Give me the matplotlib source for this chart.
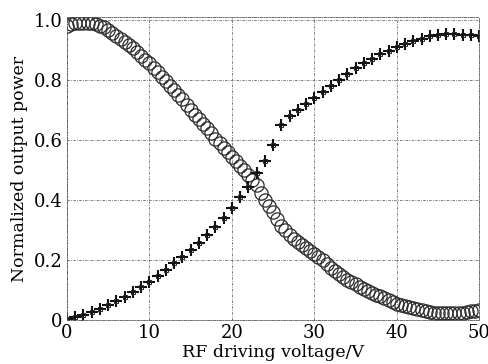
import numpy as np
import matplotlib
matplotlib.use("Agg")
import matplotlib.pyplot as plt

# Rising branch ('+' markers), 1 V steps
v_plus = np.arange(0, 51, 1)
p_plus = [0.005, 0.010, 0.018, 0.027, 0.038, 0.050, 0.063, 0.077, 0.093, 0.110,
          0.128, 0.148, 0.168, 0.190, 0.212, 0.235, 0.258, 0.285, 0.312, 0.340,
          0.375, 0.410, 0.445, 0.490, 0.530, 0.585, 0.650, 0.680, 0.700, 0.720,
          0.740, 0.760, 0.780, 0.800, 0.820, 0.840, 0.857, 0.870, 0.885, 0.898,
          0.910, 0.920, 0.930, 0.938, 0.945, 0.950, 0.952, 0.952, 0.950, 0.948,
          0.947]

# Falling branch (circles), 0.5 V steps
v_circ = np.arange(0, 50.5, 0.5)
p_circ = [0.980, 0.985, 0.990, 0.990, 0.990, 0.990, 0.990, 0.985, 0.980, 0.975,
          0.965, 0.955, 0.945, 0.935, 0.925, 0.915, 0.905, 0.893, 0.880, 0.868,
          0.855, 0.840, 0.825, 0.810, 0.795, 0.780, 0.765, 0.750, 0.735, 0.718,
          0.700, 0.685, 0.670, 0.655, 0.640, 0.622, 0.605, 0.590, 0.575, 0.560,
          0.545, 0.530, 0.515, 0.500, 0.485, 0.468, 0.450, 0.425, 0.400, 0.380,
          0.360, 0.338, 0.315, 0.300, 0.285, 0.272, 0.260, 0.250, 0.240, 0.230,
          0.220, 0.210, 0.200, 0.187, 0.175, 0.165, 0.155, 0.145, 0.135, 0.127,
          0.120, 0.112, 0.105, 0.097, 0.090, 0.085, 0.080, 0.074, 0.068, 0.061,
          0.055, 0.051, 0.047, 0.043, 0.040, 0.037, 0.034, 0.031, 0.028, 0.026,
          0.025, 0.024, 0.024, 0.024, 0.024, 0.024, 0.025, 0.027, 0.030, 0.032,
          0.035]

x_ticks = [0, 10, 20, 30, 40, 50]
y_ticks = [0, 0.2, 0.4, 0.6, 0.8, 1.0]
y_ticklabels = ["0", "0.2", "0.4", "0.6", "0.8", "1.0"]

plt.rcParams['font.family'] = ['DejaVu Serif']

fig = plt.figure(figsize=(4.89, 3.64), dpi=100)
ax = fig.add_axes([0.137, 0.12, 0.843, 0.832])

ax.plot(v_circ, p_circ, linestyle='none', marker='o', markersize=9.5,
        markerfacecolor='none', markeredgecolor='#2a2a2a', markeredgewidth=0.9)
ax.plot(v_plus, p_plus, linestyle='none', marker='+', markersize=9,
        color='#111111', markeredgewidth=1.5)
ax.plot(v_plus, p_plus, linestyle='none', marker='s', markersize=3,
        markerfacecolor='none', markeredgecolor='#222222', markeredgewidth=0.7)

ax.set_xlim(0, 50)
ax.set_ylim(0, 1.008)
ax.set_xticks(x_ticks)
ax.set_yticks(y_ticks)
ax.set_yticklabels(y_ticklabels)
ax.tick_params(length=0, labelsize=13, pad=3)
ax.grid(True, color='#666666', linestyle=(0, (3, 1.5, 1, 1.5)), linewidth=0.6)
for s in ax.spines.values():
    s.set_color('#555555')
    s.set_linestyle((0, (3, 1.5, 1, 1.5)))
    s.set_linewidth(0.6)

ax.set_xlabel("RF driving voltage/V", fontsize=12.5, labelpad=1)
ax.set_ylabel("Normalized output power", fontsize=12.5, labelpad=4)

fig.savefig("out.png", dpi=100)
